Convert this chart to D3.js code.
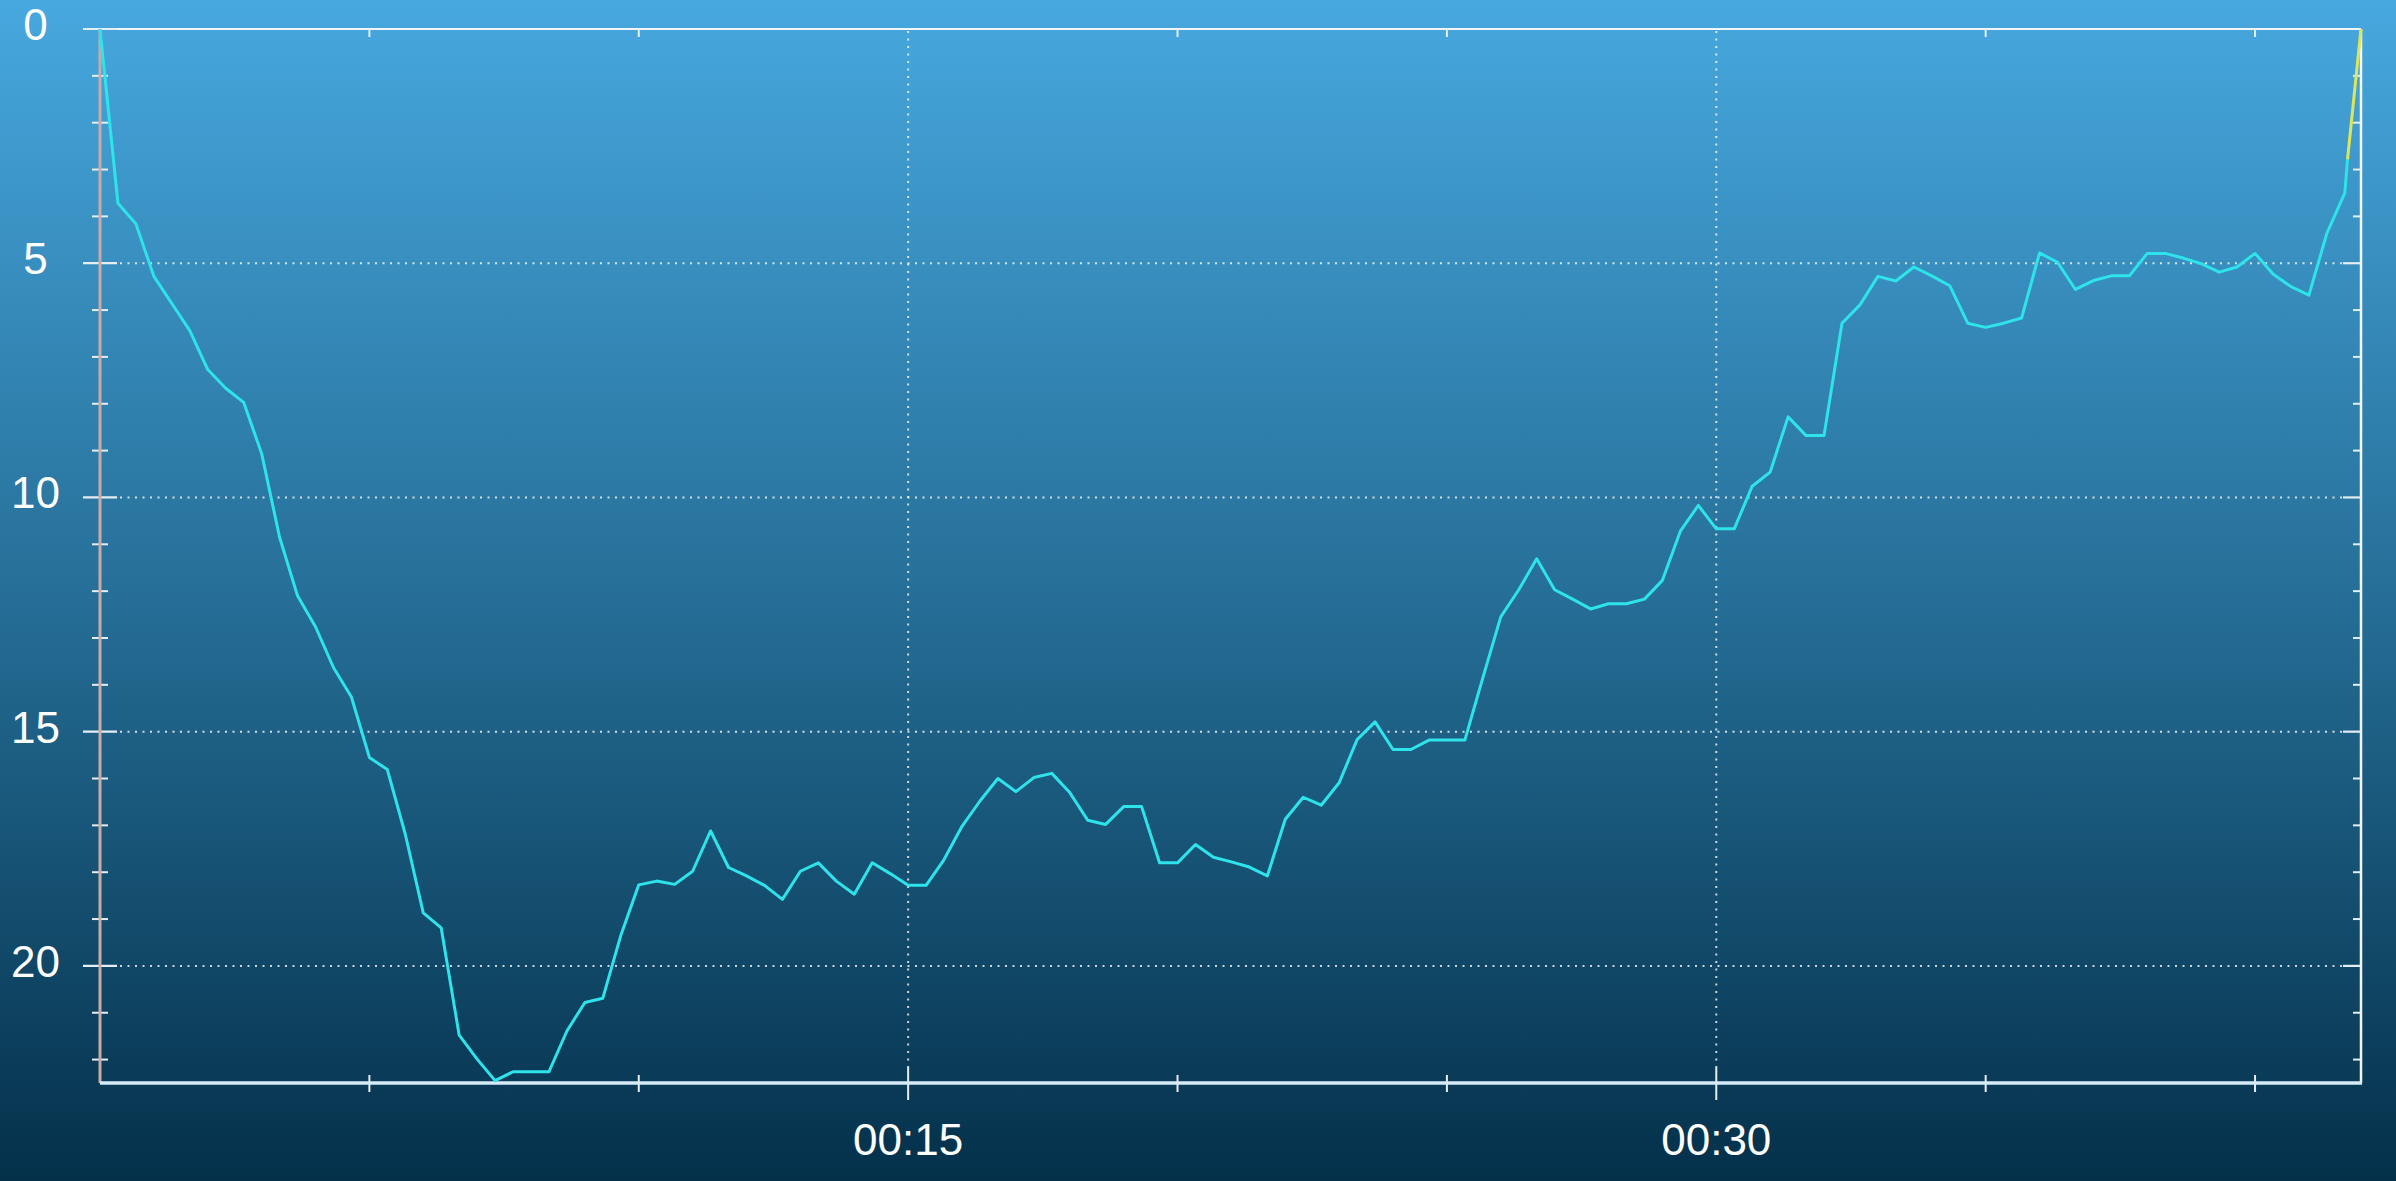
<!DOCTYPE html>
<html>
<head>
<meta charset="utf-8">
<script src="https://cdn.jsdelivr.net/npm/d3@7"></script>
<style>
  html, body { margin: 0; padding: 0; background: #05324b; }
  svg { display: block; }
  text { font-family: "Liberation Sans", Arial, sans-serif; fill: #ffffff; }
</style>
</head>
<body>
<svg id="chart" width="2396" height="1181"></svg>
<script>
// ---- DATA (time in seconds, depth) ----
const profileTimes = [
  0, 20, 40, 60, 80, 100, 120, 140, 160, 180,
  200, 220, 240, 260, 280, 300, 320, 340, 360, 380,
  400, 420, 440, 460, 480, 500, 520, 540, 560, 580,
  600, 620, 640, 660, 680, 700, 720, 740, 760, 780,
  800, 820, 840, 860, 880, 900, 920, 940, 960, 980,
  1000, 1020, 1040, 1060, 1080, 1100, 1120, 1140, 1160, 1180,
  1200, 1220, 1240, 1260, 1280, 1300, 1320, 1340, 1360, 1380,
  1400, 1420, 1440, 1460, 1480, 1500, 1520, 1540, 1560, 1580,
  1600, 1620, 1640, 1660, 1680, 1700, 1720, 1740, 1760, 1780,
  1800, 1820, 1840, 1860, 1880, 1900, 1920, 1940, 1960, 1980,
  2000, 2020, 2040, 2060, 2080, 2100, 2120, 2140, 2160, 2180,
  2200, 2220, 2240, 2260, 2280, 2300, 2320, 2340, 2360, 2380,
  2400, 2420, 2440, 2460, 2480, 2500, 2503
];
const profileDepths = [
  0, 3.72, 4.16, 5.28, 5.86, 6.44, 7.27, 7.67, 7.97, 9.06,
  10.85, 12.1, 12.76, 13.63, 14.26, 15.55, 15.81, 17.19, 18.87, 19.19,
  21.48, 21.99, 22.45, 22.26, 22.26, 22.26, 21.39, 20.78, 20.69, 19.35,
  18.27, 18.19, 18.26, 17.98, 17.12, 17.9, 18.08, 18.28, 18.58, 17.98,
  17.8, 18.19, 18.47, 17.8, 18.03, 18.28, 18.28, 17.73, 17.02, 16.48,
  16.0, 16.28, 15.98, 15.89, 16.3, 16.89, 16.98, 16.6, 16.6, 17.8,
  17.8, 17.41, 17.68, 17.78, 17.89, 18.08, 16.87, 16.4, 16.57, 16.09,
  15.17, 14.79, 15.38, 15.38, 15.18, 15.18, 15.18, 13.85, 12.55, 11.97,
  11.31, 11.97, 12.17, 12.38, 12.27, 12.27, 12.17, 11.77, 10.72, 10.17,
  10.67, 10.67, 9.76, 9.46, 8.28, 8.68, 8.68, 6.28, 5.89, 5.28,
  5.38, 5.08, 5.27, 5.48, 6.28, 6.37, 6.28, 6.17, 4.78, 4.98,
  5.56, 5.37, 5.27, 5.27, 4.79, 4.79, 4.89, 5.01, 5.19, 5.08,
  4.79, 5.23, 5.5, 5.68, 4.36, 3.5, 2.78
];
// final (fast) ascent, drawn in yellow
const ascentTimes = [2503, 2518];
const ascentDepths = [2.78, 0];

const timeDomain = [0, 2518];
const depthDomain = [0, 22.5];

const xMinorTicks = [300, 600, 1200, 1500, 2100, 2400];
const xMajorTicks = [900, 1800];
const xTickLabels = ["00:15", "00:30"];

const yMajorTicks = [0, 5, 10, 15, 20];
const yTickLabels = ["0", "5", "10", "15", "20"];
const yMinorTicks = [1, 2, 3, 4, 6, 7, 8, 9, 11, 12, 13, 14, 16, 17, 18, 19, 21, 22];

// ---- LAYOUT ----
const W = 2396, H = 1181;
const L = 100, R = 2361, T = 29, B = 1083;

const svg = d3.select("#chart");

const defs = svg.append("defs");
const grad = defs.append("linearGradient")
  .attr("id", "bg").attr("x1", 0).attr("y1", 0).attr("x2", 0).attr("y2", 1);
grad.append("stop").attr("offset", "0%").attr("stop-color", "#47a8df");
grad.append("stop").attr("offset", "50%").attr("stop-color", "#266f98");
grad.append("stop").attr("offset", "100%").attr("stop-color", "#04304a");
svg.append("rect").attr("width", W).attr("height", H).attr("fill", "url(#bg)");

const x = d3.scaleLinear().domain(timeDomain).range([L, R]);
const y = d3.scaleLinear().domain(depthDomain).range([T, B]);

const gridColor = "rgba(255,255,255,0.78)";
const tickColor = "#e6eef5";

// horizontal dotted grid
svg.append("g").selectAll("line").data(yMajorTicks.filter(d => d > 0)).join("line")
  .attr("x1", L + 20).attr("x2", R - 18)
  .attr("y1", d => y(d)).attr("y2", d => y(d))
  .attr("stroke", gridColor).attr("stroke-width", 2)
  .attr("stroke-dasharray", "2,5.5");

// vertical dotted grid
svg.append("g").selectAll("line").data(xMajorTicks).join("line")
  .attr("x1", d => x(d)).attr("x2", d => x(d))
  .attr("y1", T + 2).attr("y2", B - 16)
  .attr("stroke", gridColor).attr("stroke-width", 2)
  .attr("stroke-dasharray", "2,5.5");

// frame
svg.append("line").attr("x1", L - 17).attr("x2", R).attr("y1", T).attr("y2", T)
  .attr("stroke", "#f2f6fa").attr("stroke-width", 2.2);
svg.append("line").attr("x1", R).attr("x2", R).attr("y1", T).attr("y2", B)
  .attr("stroke", "#f2f6fa").attr("stroke-width", 2.5);

// left ticks (both sides)
svg.append("g").selectAll("line").data(yMinorTicks).join("line")
  .attr("x1", L - 8).attr("x2", L + 8)
  .attr("y1", d => y(d)).attr("y2", d => y(d))
  .attr("stroke", tickColor).attr("stroke-width", 2);
svg.append("g").selectAll("line").data(yMajorTicks).join("line")
  .attr("x1", L - 17).attr("x2", L + 17)
  .attr("y1", d => y(d)).attr("y2", d => y(d))
  .attr("stroke", tickColor).attr("stroke-width", 2.2);

// right ticks (inward)
svg.append("g").selectAll("line").data(yMinorTicks).join("line")
  .attr("x1", R - 8).attr("x2", R)
  .attr("y1", d => y(d)).attr("y2", d => y(d))
  .attr("stroke", tickColor).attr("stroke-width", 2);
svg.append("g").selectAll("line").data(yMajorTicks.filter(d => d > 0)).join("line")
  .attr("x1", R - 18).attr("x2", R)
  .attr("y1", d => y(d)).attr("y2", d => y(d))
  .attr("stroke", tickColor).attr("stroke-width", 2.2);

// top ticks (inward)
svg.append("g").selectAll("line").data(xMinorTicks).join("line")
  .attr("x1", d => x(d)).attr("x2", d => x(d))
  .attr("y1", T).attr("y2", T + 8)
  .attr("stroke", tickColor).attr("stroke-width", 2);

// bottom ticks
svg.append("g").selectAll("line").data(xMinorTicks).join("line")
  .attr("x1", d => x(d)).attr("x2", d => x(d))
  .attr("y1", B - 8).attr("y2", B + 9)
  .attr("stroke", tickColor).attr("stroke-width", 2);
svg.append("g").selectAll("line").data(xMajorTicks).join("line")
  .attr("x1", d => x(d)).attr("x2", d => x(d))
  .attr("y1", B - 16).attr("y2", B + 17)
  .attr("stroke", tickColor).attr("stroke-width", 2);

// left axis line (tan) and bottom axis line
svg.append("line").attr("x1", L).attr("x2", L).attr("y1", T).attr("y2", B)
  .attr("stroke", "#c8aaa6").attr("stroke-width", 3);
svg.append("line").attr("x1", L).attr("x2", R + 1).attr("y1", B).attr("y2", B)
  .attr("stroke", "#d6ebf8").attr("stroke-width", 3.5);

// labels
svg.append("g").selectAll("text").data(yMajorTicks).join("text")
  .attr("x", 35.5).attr("y", d => y(d) + 11)
  .attr("text-anchor", "middle").attr("font-size", 44)
  .text((d, i) => yTickLabels[i]);
svg.append("g").selectAll("text").data(xMajorTicks).join("text")
  .attr("x", d => x(d)).attr("y", 1155)
  .attr("text-anchor", "middle").attr("font-size", 44)
  .text((d, i) => xTickLabels[i]);

// profile line
const line = d3.line().x(d => x(d[0])).y(d => y(d[1]));
svg.append("path")
  .datum(d3.zip(profileTimes, profileDepths))
  .attr("d", line)
  .attr("fill", "none").attr("stroke", "#2ee3ea")
  .attr("stroke-width", 3).attr("stroke-linejoin", "round");
svg.append("path")
  .datum(d3.zip(ascentTimes, ascentDepths))
  .attr("d", line)
  .attr("fill", "none").attr("stroke", "#dde65a")
  .attr("stroke-width", 3).attr("stroke-linejoin", "round");
</script>
</body>
</html>
